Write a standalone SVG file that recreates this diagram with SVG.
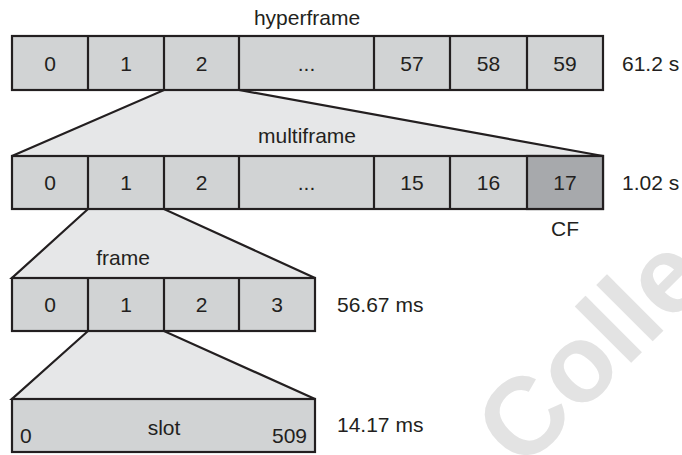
<svg xmlns="http://www.w3.org/2000/svg" width="682" height="455" viewBox="0 0 682 455">
<style>
.cell{fill:#d1d3d4;stroke:#231f20;stroke-width:2.2}
.dark{fill:#a7a9ac;stroke:#231f20;stroke-width:2.2}
.div{stroke:#231f20;stroke-width:2.2;fill:none}
.fan{fill:#e6e7e8;stroke:#231f20;stroke-width:2.2;stroke-linejoin:miter}
text{font-family:"Liberation Sans",Arial,sans-serif;font-size:21px;fill:#231f20}
.c{text-anchor:middle}
.e{text-anchor:end}
.wm{font-family:"Liberation Sans",Arial,sans-serif;font-weight:bold;font-size:110px;fill:#e3e3e3}
</style>
<rect width="682" height="455" fill="#ffffff"/>
<text class="wm" x="522" y="472" transform="rotate(-45 522 472)">Colle</text>
<g id="connectors">
<path class="fan" d="M164,90 L239,90 L603,156 L12,156 Z"/>
<path class="fan" d="M88,209 L164,209 L315,278 L12,278 Z"/>
<path class="fan" d="M88,331 L164,331 L315,399 L12,399 Z"/>
</g>
<g id="hyperframe">
<text class="c" x="307" y="25">hyperframe</text>
<rect class="cell" x="12" y="36" width="591" height="54"/>
<path class="div" d="M88,36V90M164,36V90M239,36V90M374,36V90M450,36V90M527,36V90"/>
<text class="c" x="50" y="70.5">0</text>
<text class="c" x="126" y="70.5">1</text>
<text class="c" x="201.5" y="70.5">2</text>
<text class="c" x="306.5" y="70.5">...</text>
<text class="c" x="412" y="70.5">57</text>
<text class="c" x="488.5" y="70.5">58</text>
<text class="c" x="565" y="70.5">59</text>
<text x="622" y="70.5">61.2 s</text>
</g>
<g id="multiframe">
<text class="c" x="307" y="143">multiframe</text>
<rect class="cell" x="12" y="156" width="591" height="53"/>
<rect class="dark" x="527" y="156" width="76" height="53"/>
<path class="div" d="M88,156V209M164,156V209M239,156V209M374,156V209M450,156V209"/>
<text class="c" x="50" y="190">0</text>
<text class="c" x="126" y="190">1</text>
<text class="c" x="201.5" y="190">2</text>
<text class="c" x="306.5" y="190">...</text>
<text class="c" x="412" y="190">15</text>
<text class="c" x="488.5" y="190">16</text>
<text class="c" x="565" y="190">17</text>
<text x="622" y="190">1.02 s</text>
<text class="c" x="565" y="236">CF</text>
</g>
<g id="frame">
<text class="c" x="123" y="265">frame</text>
<rect class="cell" x="12" y="278" width="303" height="53"/>
<path class="div" d="M88,278V331M164,278V331M239,278V331"/>
<text class="c" x="50" y="312">0</text>
<text class="c" x="126" y="312">1</text>
<text class="c" x="201.5" y="312">2</text>
<text class="c" x="277" y="312">3</text>
<text x="337" y="312">56.67 ms</text>
</g>
<g id="slot">
<rect class="cell" x="12" y="399" width="303" height="53"/>
<text class="c" x="164" y="435">slot</text>
<text x="20" y="443">0</text>
<text class="e" x="307" y="443">509</text>
<text x="337" y="432">14.17 ms</text>
</g>
</svg>
